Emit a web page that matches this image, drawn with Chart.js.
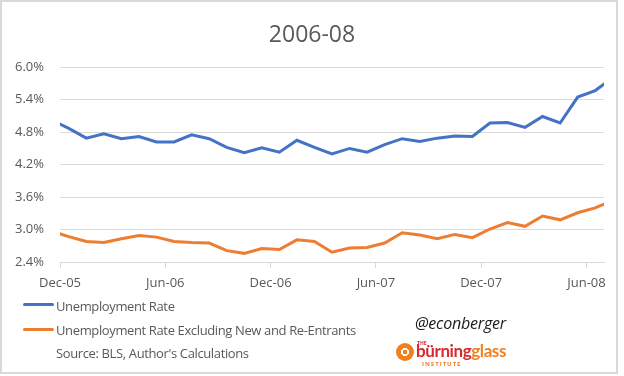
<!DOCTYPE html>
<html>
<head>
<meta charset="utf-8">
<script src="https://cdn.jsdelivr.net/npm/chart.js@4.4.1/dist/chart.umd.min.js"></script>
<style>
  body { margin: 0; background: #fff; font-family: "Segoe UI", "Open Sans", "Noto Sans", sans-serif; }
  #wrap { position: relative; width: 624px; height: 376px; overflow: hidden; background: #fff; }
  #frame { position: absolute; left: 0; top: 0; width: 614px; height: 370px; border: 2px solid #d9d9d9; }
  #chart { position: absolute; left: 0; top: 0; }
  #title { position: absolute; left: 0; top: 19px; width: 624px; text-align: center; font-size: 23px; line-height: 28px; color: #595959; }
  .swatch { position: absolute; left: 23px; width: 31px; height: 3px; border-radius: 1.5px; }
  .txt { position: absolute; left: 56px; font-size: 13px; color: #595959; white-space: nowrap; line-height: 16px; letter-spacing: -0.37px; }
  #handle { position: absolute; left: 415px; top: 313px; font-size: 16px; font-style: italic; color: #1a1a1a; line-height: 20px; letter-spacing: -0.2px; }
  #logoIcon { position: absolute; left: 396px; top: 343px; width: 18px; height: 18px; border-radius: 50%;
    background: radial-gradient(circle, #f07f1e 0 2.5px, #fff 2.5px 4px, #f07f1e 4px 9px); }
  #logoThe { position: absolute; left: 417px; top: 340px; font-size: 5px; color: #d8282f; font-weight: bold; line-height: 6px; }
  #logoWord { position: absolute; left: 416px; top: 341px; font-family: "Lato", sans-serif; font-weight: bold; font-size: 17px; line-height: 20px; letter-spacing: -0.4px; }
  #logoWord .b { color: #d8282f; }
  #logoWord .g { color: #f07f1e; }
  #logoInst { position: absolute; left: 422px; top: 361px; font-size: 6px; font-weight: bold; letter-spacing: 1px; color: #f07f1e; line-height: 7px; }
</style>
</head>
<body>
<div id="wrap">
  <canvas id="chart" width="624" height="376"></canvas>
  <div id="frame"></div>
  <div id="title">2006-08</div>
  <div class="swatch" style="top:303px;background:#4472c4"></div>
  <div class="txt" style="top:298px">Unemployment Rate</div>
  <div class="swatch" style="top:328px;background:#ed7d31"></div>
  <div class="txt" style="top:322px">Unemployment Rate Excluding New and Re-Entrants</div>
  <div class="txt" style="top:345px">Source: BLS, Author's Calculations</div>
  <div id="handle">@econberger</div>
  <div id="logoIcon"></div>
  <div id="logoThe">THE</div>
  <div id="logoWord"><span class="b">bürning</span><span class="g">glass</span></div>
  <div id="logoInst">INSTITUTE</div>
</div>
<script>
// Monthly observations (mid-month); the axis window runs Dec-05 .. Jul-08
const months = ['Nov-05', 'Dec-05', 'Jan-06', 'Feb-06', 'Mar-06', 'Apr-06', 'May-06', 'Jun-06',
  'Jul-06', 'Aug-06', 'Sep-06', 'Oct-06', 'Nov-06', 'Dec-06', 'Jan-07', 'Feb-07', 'Mar-07',
  'Apr-07', 'May-07', 'Jun-07', 'Jul-07', 'Aug-07', 'Sep-07', 'Oct-07', 'Nov-07', 'Dec-07',
  'Jan-08', 'Feb-08', 'Mar-08', 'Apr-08', 'May-08', 'Jun-08', 'Jul-08'];

const unemploymentRate = [5.03, 4.87, 4.69, 4.77, 4.68, 4.72, 4.62, 4.62, 4.75, 4.68, 4.52,
  4.42, 4.51, 4.43, 4.65, 4.52, 4.40, 4.50, 4.43, 4.57, 4.68, 4.63, 4.69, 4.73, 4.72, 4.97,
  4.98, 4.89, 5.09, 4.97, 5.45, 5.57, 5.81];

const rateExNewReentrants = [2.97, 2.87, 2.78, 2.76, 2.83, 2.89, 2.86, 2.78, 2.76, 2.75, 2.61,
  2.56, 2.65, 2.63, 2.81, 2.78, 2.58, 2.66, 2.67, 2.75, 2.94, 2.90, 2.83, 2.91, 2.85, 3.01,
  3.13, 3.06, 3.25, 3.18, 3.31, 3.40, 3.54];

const tickLabels = ['Dec-05', 'Jun-06', 'Dec-06', 'Jun-07', 'Dec-07', 'Jun-08'];
const yTicks = [2.4, 3.0, 3.6, 4.2, 4.8, 5.4, 6.0];

// month index 0 = Nov-05, plotted at the middle of its month (Dec-05 tick = 0)
const toPoints = (vals) => vals.map((v, i) => ({ x: i - 0.5, y: v }));

const ctx = document.getElementById('chart').getContext('2d');

const chart = new Chart(ctx, {
  type: 'line',
  data: {
    datasets: [{
      label: 'Unemployment Rate',
      data: toPoints(unemploymentRate),
      borderColor: '#4472c4',
      borderWidth: 3,
      pointRadius: 0,
      tension: 0,
      clip: 0
    }, {
      label: 'Unemployment Rate Excluding New and Re-Entrants',
      data: toPoints(rateExNewReentrants),
      borderColor: '#ed7d31',
      borderWidth: 3,
      pointRadius: 0,
      tension: 0,
      clip: 0
    }]
  },
  options: {
    responsive: false,
    animation: false,
    layout: { padding: { left: 0, right: 20, top: 67.3, bottom: 80 } },
    plugins: {
      legend: { display: false },
      tooltip: { enabled: false }
    },
    scales: {
      x: {
        type: 'linear',
        min: 0,
        max: 31,
        afterFit: (s) => { s.height = 34; },
        grid: { drawOnChartArea: false, drawTicks: true, tickLength: 6, color: '#d9d9d9' },
        border: { display: true, color: '#d9d9d9' },
        ticks: {
          stepSize: 6,
          includeBounds: false,
          maxRotation: 0,
          autoSkip: false,
          padding: 7,
          color: '#595959',
          font: { family: '"Segoe UI", "Open Sans", sans-serif', size: 13 },
          callback: (v) => tickLabels[v / 6]
        }
      },
      y: {
        min: yTicks[0],
        max: yTicks[yTicks.length - 1],
        afterFit: (s) => { s.width = 60; },
        afterBuildTicks: (s) => { s.ticks = yTicks.map(v => ({ value: v })); },
        grid: { drawTicks: false, color: '#d9d9d9' },
        border: { display: false },
        ticks: {
          padding: 16,
          color: '#595959',
          font: { family: '"Segoe UI", "Open Sans", sans-serif', size: 13 },
          callback: (v) => v.toFixed(1) + '%'
        }
      }
    }
  }
});
</script>
</body>
</html>
